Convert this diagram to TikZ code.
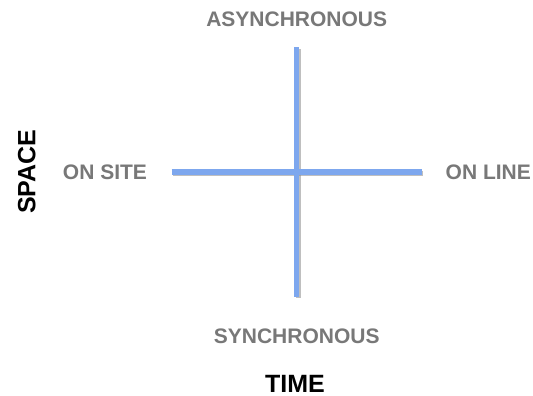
\documentclass[tikz,border=0pt]{standalone}
\usepackage{fontspec}
\setmainfont{Liberation Sans}
\definecolor{axisblue}{HTML}{7DA7EE}
\definecolor{labelgray}{HTML}{787878}
\begin{document}
\begin{tikzpicture}[x=1pt,y=-1pt,
  lab/.style={font=\bfseries\fontsize{21}{21}\selectfont, text=labelgray, inner sep=0pt},
  axislab/.style={font=\bfseries\fontsize{25}{25}\selectfont, text=black, inner sep=0pt},
  axisline/.style={line width=5.6pt, draw=axisblue},
  shadowline/.style={line width=5.6pt, draw=black!45, opacity=0.55}]
\useasboundingbox[fill=white] (0,0) rectangle (533,396);
\coordinate (top) at (296.5,47.5);
\coordinate (bot) at (296.5,296.5);
\coordinate (left) at (171.5,171.8);
\coordinate (right) at (421.5,171.8);
\draw[shadowline] ([shift={(1.8,1.8)}]top) -- ([shift={(1.8,1.8)}]bot);
\draw[shadowline] ([shift={(1.8,1.8)}]left) -- ([shift={(1.8,1.8)}]right);
\draw[axisline] (top) -- (bot);
\draw[axisline] (left) -- (right);
\node[lab] (async) at (296.7,19.5) {ASYNCHRONOUS};
\node[lab] (sync) at (296.7,335.8) {SYNCHRONOUS};
\node[lab] (onsite) at (105,172.3) {ON SITE};
\node[lab] (online) at (488.3,171.8) {ON LINE};
\node[axislab] (time) at (295,383.5) {TIME};
\node[axislab, rotate=90] (space) at (26.7,171.7) {SPACE};
\end{tikzpicture}
\end{document}
